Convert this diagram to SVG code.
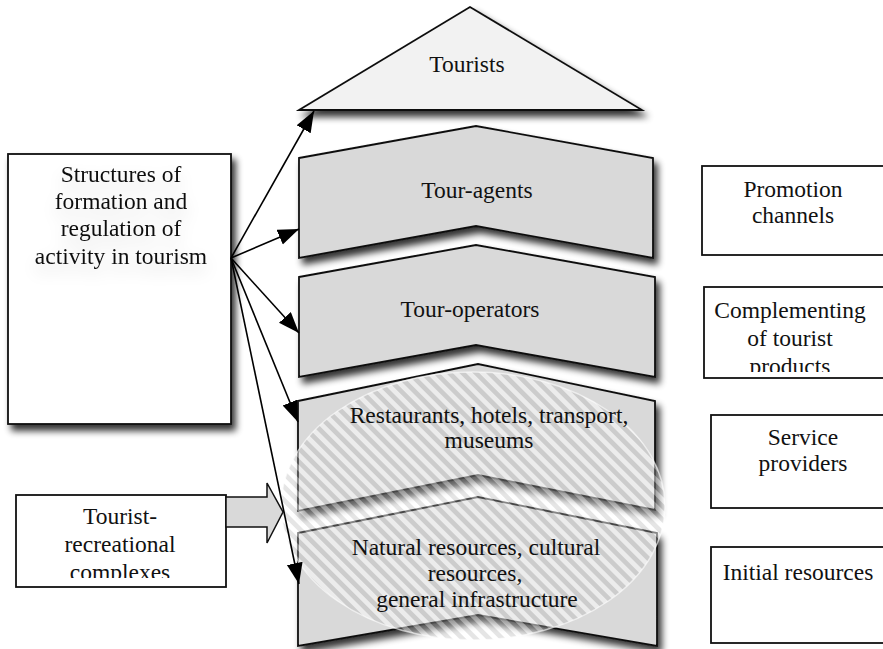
<svg xmlns="http://www.w3.org/2000/svg" width="883" height="649" viewBox="0 0 883 649" font-family="Liberation Serif, DejaVu Serif, Times New Roman, serif">
<style>
  text { font-family: Liberation Serif, DejaVu Serif, Times New Roman, serif; font-size: 23.5px; fill: #111; text-anchor: middle; }
  .chev { fill: #d9d9d9; stroke: #111; stroke-width: 1.8; stroke-linejoin: miter; }
  .box { fill: #fff; stroke: #111; stroke-width: 1.8; }
  .conn { stroke: #000; stroke-width: 1.6; fill: none; }
</style>
<defs>
  <filter id="sh" x="-10%" y="-20%" width="130%" height="150%">
    <feGaussianBlur in="SourceAlpha" stdDeviation="3.5"/>
    <feOffset dx="4" dy="6" result="b"/>
    <feComponentTransfer><feFuncA type="linear" slope="0.8"/></feComponentTransfer>
    <feMerge><feMergeNode/><feMergeNode in="SourceGraphic"/></feMerge>
  </filter>
  <filter id="glow" x="-30%" y="-30%" width="160%" height="180%">
    <feGaussianBlur in="SourceAlpha" stdDeviation="9"/>
    <feOffset dx="0" dy="8"/>
    <feComponentTransfer><feFuncA type="linear" slope="0.18"/></feComponentTransfer>
    <feMerge><feMergeNode/><feMergeNode in="SourceGraphic"/></feMerge>
  </filter>
  <pattern id="hatch" patternUnits="userSpaceOnUse" width="9.4" height="20" patternTransform="rotate(-45)">
    <rect x="0" y="0" width="4.7" height="20" fill="#ffffff" fill-opacity="0.5"/>
    <rect x="4.7" y="0" width="4.7" height="20" fill="#b4b4b4" fill-opacity="0.35"/>
  </pattern>
  <marker id="ah" markerUnits="userSpaceOnUse" markerWidth="22" markerHeight="18" refX="21" refY="8" orient="auto">
    <path d="M0,0 L21,8 L0,16 Z" fill="#000"/>
  </marker>
  <clipPath id="clipComp"><rect x="704" y="287" width="180" height="85"/></clipPath>
  <clipPath id="clipTR"><rect x="16" y="495" width="210" height="83"/></clipPath>
</defs>
<rect width="883" height="649" fill="#fff"/>

<g id="tourists">
  <path d="M299,110 L470,7 L642,110 Z" fill="#f2f2f2" stroke="#111" stroke-width="1.8" filter="url(#sh)"/>
  <text x="467" y="72">Tourists</text>
</g>

<g id="tour-agents">
  <path class="chev" d="M299,158 L476,126 L653,158 L653,258 L476,226 L299,258 Z" filter="url(#sh)"/>
  <text x="477" y="198">Tour-agents</text>
</g>

<g id="tour-operators">
  <path class="chev" d="M299,277 L476,245 L655,277 L655,377 L476,345 L299,377 Z" filter="url(#sh)"/>
  <text x="470" y="317">Tour-operators</text>
</g>

<g id="restaurants">
  <path class="chev" d="M298,401 L478,364 L655,401 L655,510 L478,475 L298,511 Z" filter="url(#sh)"/>
</g>

<g id="natural-resources">
  <path class="chev" d="M298,533 L478,497 L657,533 L657,646 L478,615 L298,646 Z" filter="url(#sh)"/>
</g>

<g id="tourist-zone">
  <ellipse cx="473" cy="506" rx="192" ry="134" fill="url(#hatch)" stroke="#ffffff" stroke-opacity="0.6" stroke-width="1.5"/>
</g>

<g id="restaurants-label">
  <text x="489" y="423">Restaurants, hotels, transport,</text>
  <text x="489" y="448">museums</text>
</g>

<g id="natural-resources-label">
  <text x="476" y="555">Natural resources, cultural</text>
  <text x="475" y="581">resources,</text>
  <text x="477" y="607">general infrastructure</text>
</g>

<g id="structures">
  <rect class="box" x="8" y="154" width="223" height="270" filter="url(#sh)"/>
  <g filter="url(#glow)">
    <text x="121" y="182">Structures of</text>
    <text x="121" y="209">formation and</text>
    <text x="121" y="236">regulation of</text>
    <text x="121" y="264">activity in tourism</text>
  </g>
</g>

<g id="tourist-recreational">
  <rect class="box" x="16" y="495" width="210" height="92"/>
  <g clip-path="url(#clipTR)">
    <text x="120" y="524">Tourist-</text>
    <text x="120" y="552">recreational</text>
    <text x="120" y="580">complexes</text>
  </g>
</g>

<g id="block-arrow">
  <path d="M226,497 L267,497 L267,483 L283,512 L267,543 L267,527 L226,527 Z" fill="#d9d9d9" stroke="#111" stroke-width="1.5"/>
</g>

<g id="promotion-channels">
  <rect class="box" x="702" y="166" width="190" height="89"/>
  <text x="793" y="197">Promotion</text>
  <text x="793" y="223">channels</text>
</g>

<g id="complementing">
  <rect class="box" x="704" y="287" width="190" height="91"/>
  <g clip-path="url(#clipComp)">
    <text x="790" y="318">Complementing</text>
    <text x="790" y="346">of tourist</text>
    <text x="790" y="374">products</text>
  </g>
</g>

<g id="service-providers">
  <rect class="box" x="711" y="415" width="190" height="93"/>
  <text x="803" y="445">Service</text>
  <text x="803" y="471">providers</text>
</g>

<g id="initial-resources">
  <rect class="box" x="711" y="547" width="190" height="96"/>
  <text x="798" y="580">Initial resources</text>
</g>

<g id="connectors">
  <line class="conn" x1="231" y1="258" x2="314" y2="111" marker-end="url(#ah)"/>
  <line class="conn" x1="231" y1="258" x2="299" y2="229" marker-end="url(#ah)"/>
  <line class="conn" x1="231" y1="258" x2="299" y2="333" marker-end="url(#ah)"/>
  <line class="conn" x1="231" y1="258" x2="298" y2="422" marker-end="url(#ah)"/>
  <line class="conn" x1="231" y1="258" x2="299" y2="584" marker-end="url(#ah)"/>
</g>
</svg>
